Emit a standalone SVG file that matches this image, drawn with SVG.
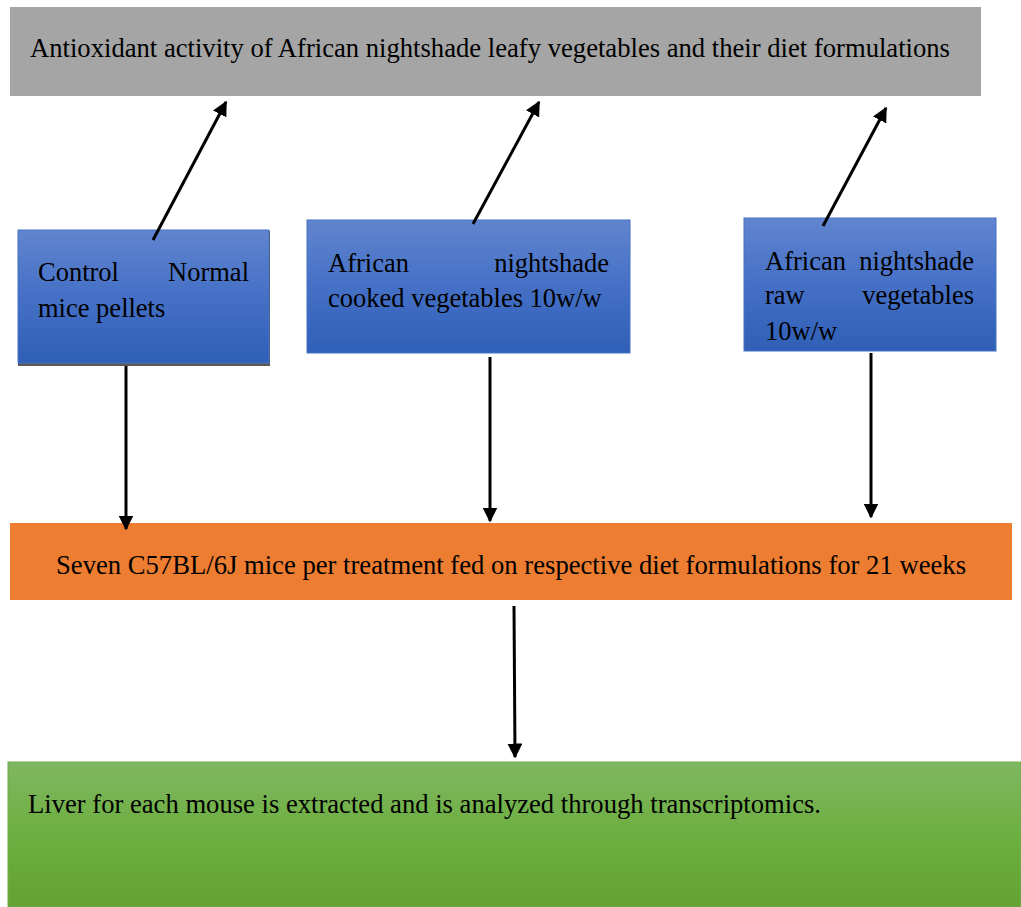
<svg xmlns="http://www.w3.org/2000/svg" width="1021" height="907" viewBox="0 0 1021 907">
<defs>
<linearGradient id="gBlue" x1="0" y1="0" x2="0" y2="1">
<stop offset="0" stop-color="#6185cf"/>
<stop offset="0.5" stop-color="#4570c6"/>
<stop offset="1" stop-color="#2f5fb6"/>
</linearGradient>
<linearGradient id="gGreen" x1="0" y1="0" x2="0" y2="1">
<stop offset="0" stop-color="#80b762"/>
<stop offset="0.5" stop-color="#6daf40"/>
<stop offset="1" stop-color="#62a333"/>
</linearGradient>
<marker id="ah" viewBox="0 0 10 10" refX="9" refY="5" markerWidth="5" markerHeight="5" orient="auto" markerUnits="strokeWidth">
<path d="M0,0 L10,5 L0,10 z" fill="#000"/>
</marker>
<style>
text{font-family:'Liberation Serif','Times New Roman',serif;font-size:26.5px;fill:#000}
.blue{fill:url(#gBlue);stroke:#4472c4;stroke-width:1}
.conn{stroke:#000;stroke-width:3;fill:none;marker-end:url(#ah)}
</style>
</defs>
<rect width="1021" height="907" fill="#fff"/>
<g id="top">
<rect x="10" y="7" width="971" height="89" fill="#a5a5a5"/>
<text x="30" y="57" textLength="920" lengthAdjust="spacingAndGlyphs">Antioxidant activity of African nightshade leafy vegetables and their diet formulations</text>
</g>
<g id="control">
<rect x="18" y="231" width="252" height="135" fill="#595959"/>
<rect class="blue" x="18" y="230" width="251" height="133"/>
<text x="38" y="281">Control</text>
<text x="249" y="281" text-anchor="end">Normal</text>
<text x="38" y="317">mice pellets</text>
</g>
<g id="cooked">
<rect class="blue" x="307" y="220" width="323" height="133"/>
<text x="328" y="272">African</text>
<text x="609" y="272" text-anchor="end">nightshade</text>
<text x="328" y="307">cooked vegetables 10w/w</text>
</g>
<g id="raw">
<rect class="blue" x="744" y="218" width="252" height="133"/>
<text x="765" y="270">African</text>
<text x="974" y="270" text-anchor="end">nightshade</text>
<text x="765" y="304">raw</text>
<text x="974" y="304" text-anchor="end">vegetables</text>
<text x="765" y="340">10w/w</text>
</g>
<g id="mice">
<rect x="10" y="523" width="1002" height="77" fill="#ed7d31"/>
<text x="56" y="574" textLength="910" lengthAdjust="spacingAndGlyphs">Seven C57BL/6J mice per treatment fed on respective diet formulations for 21 weeks</text>
</g>
<g id="liver">
<rect x="8" y="762" width="1013" height="145" fill="url(#gGreen)" stroke="#70ad47" stroke-width="1"/>
<text x="28" y="813" textLength="793" lengthAdjust="spacingAndGlyphs">Liver for each mouse is extracted and is analyzed through transcriptomics.</text>
</g>
<g id="connectors">
<line class="conn" x1="153" y1="240" x2="226" y2="102"/>
<line class="conn" x1="473" y1="224" x2="539" y2="102"/>
<line class="conn" x1="823" y1="226" x2="886" y2="108"/>
<line class="conn" x1="126" y1="366" x2="126" y2="529"/>
<line class="conn" x1="490" y1="357" x2="490" y2="521"/>
<line class="conn" x1="871" y1="353" x2="871" y2="517"/>
<line class="conn" x1="514" y1="606" x2="515" y2="757"/>
</g>
</svg>
